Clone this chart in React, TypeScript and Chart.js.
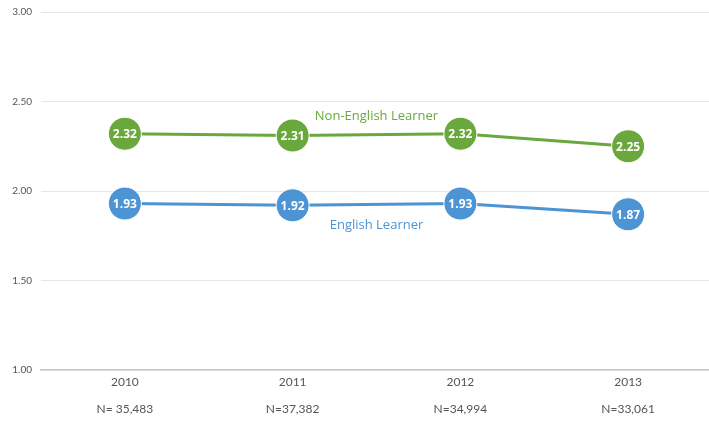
import React, { useEffect, useRef } from "react";
import { Chart, registerables } from "chart.js";

Chart.register(...registerables);

const years = ["2010", "2011", "2012", "2013"];
const nLabels = ["N= 35,483", "N=37,382", "N=34,994", "N=33,061"];
const nonEL = [2.32, 2.31, 2.32, 2.25];
const el = [1.93, 1.92, 1.93, 1.87];
const seriesNames = ["Non-English Learner", "English Learner"];
const yTicks = [1.0, 1.5, 2.0, 2.5, 3.0];

const GREEN = "#6aa83e";
const BLUE = "#4d94d4";

const labelPlugin = {
  id: "labels",
  afterDatasetsDraw(chart: any) {
    const ctx = chart.ctx;
    ctx.save();
    chart.data.datasets.forEach((ds: any, di: number) => {
      const meta = chart.getDatasetMeta(di);
      meta.data.forEach((pt: any, i: number) => {
        ctx.fillStyle = "#ffffff";
        ctx.font = "bold 12px 'Open Sans', sans-serif";
        ctx.textAlign = "center";
        ctx.textBaseline = "middle";
        ctx.fillText(ds.data[i].toFixed(2), pt.x, pt.y + 1);
      });
    });
    const xs = chart.scales.x;
    const ys = chart.scales.y;
    const cx = (xs.getPixelForValue(1) + xs.getPixelForValue(2)) / 2;
    ctx.font = "13px 'Open Sans', sans-serif";
    ctx.textAlign = "center";
    ctx.textBaseline = "middle";
    ctx.fillStyle = GREEN;
    ctx.fillText(seriesNames[0], cx, ys.getPixelForValue(2.42));
    ctx.fillStyle = BLUE;
    ctx.fillText(seriesNames[1], cx, ys.getPixelForValue(1.81));
    ctx.restore();
  },
};

export default function App() {
  const ref = useRef<HTMLCanvasElement>(null);
  useEffect(() => {
    const chart = new Chart(ref.current!, {
      type: "line",
      data: {
        labels: years.map((y, i) => [y, nLabels[i]]),
        datasets: [
          {
            label: seriesNames[0],
            data: nonEL,
            borderColor: GREEN,
            backgroundColor: GREEN,
            pointBackgroundColor: GREEN,
            pointBorderColor: "#ffffff",
            pointBorderWidth: 1,
            pointRadius: 16.5,
            borderWidth: 3,
          },
          {
            label: seriesNames[1],
            data: el,
            borderColor: BLUE,
            backgroundColor: BLUE,
            pointBackgroundColor: BLUE,
            pointBorderColor: "#ffffff",
            pointBorderWidth: 1,
            pointRadius: 16.5,
            borderWidth: 3,
          },
        ],
      },
      options: {
        animation: false,
        responsive: false,
        maintainAspectRatio: false,
        layout: { autoPadding: false, padding: { top: 7, right: 0, left: 0, bottom: 0 } },
        plugins: {
          legend: { display: false },
          tooltip: { enabled: false },
        },
        scales: {
          x: {
            offset: true,
            afterFit: (axis: any) => {
              axis.height = 55;
            },
            grid: { display: false, drawTicks: false },
            border: { display: true, color: "#c8c8c8", width: 1.5 },
            ticks: {
              color: "#555555",
              font: { family: "'Lato', sans-serif", size: 12, lineHeight: 2.3 },
              padding: -2,
              maxRotation: 0,
            },
          },
          y: {
            min: 1,
            max: 3,
            afterBuildTicks: (axis: any) => {
              axis.ticks = yTicks.map((v) => ({ value: v }));
            },
            afterFit: (axis: any) => {
              axis.width = 40;
            },
            grid: { color: "#e6e6e6", drawTicks: false, lineWidth: 1 },
            border: { display: false },
            ticks: {
              color: "#555555",
              font: { family: "'Lato', sans-serif", size: 10 },
              padding: 9,
              callback: (v: any) => Number(v).toFixed(2),
            },
          },
        },
      },
      plugins: [labelPlugin],
    });
    return () => chart.destroy();
  }, []);
  return (
    <div
      style={{
        position: "fixed",
        left: 0,
        top: 0,
        width: 709,
        height: 425,
        background: "#fff",
        overflow: "hidden",
      }}
    >
      <canvas
        ref={ref}
        width={711}
        height={428}
        style={{ position: "absolute", left: 1, top: -3, width: 711, height: 428 }}
      />
    </div>
  );
}
